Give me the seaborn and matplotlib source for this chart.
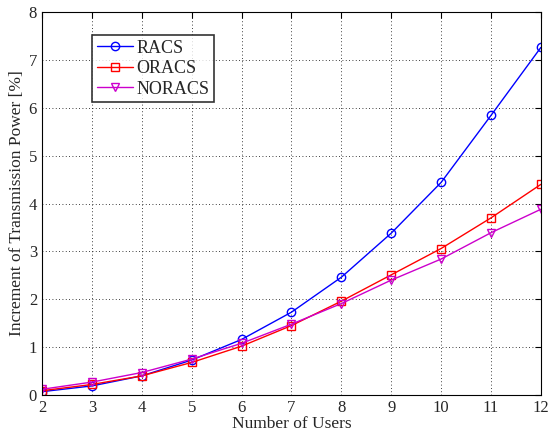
import matplotlib
matplotlib.use("Agg")
import matplotlib.pyplot as plt
import seaborn as sns
import pandas as pd
import numpy as np

users = [2, 3, 4, 5, 6, 7, 8, 9, 10, 11, 12]
racs = [0.07, 0.19, 0.40, 0.73, 1.16, 1.73, 2.46, 3.38, 4.44, 5.84, 7.26]
oracs = [0.09, 0.22, 0.40, 0.68, 1.02, 1.45, 1.96, 2.51, 3.06, 3.70, 4.40]
noracs = [0.12, 0.27, 0.47, 0.75, 1.08, 1.48, 1.91, 2.40, 2.84, 3.39, 3.88]
series_names = ["RACS", "ORACS", "NORACS"]
colors = ["#0000ff", "#ff0000", "#cc00cc"]
markers = ["o", "s", "v"]
x_ticks = [2, 3, 4, 5, 6, 7, 8, 9, 10, 11, 12]
y_ticks = [0, 1, 2, 3, 4, 5, 6, 7, 8]

sns.set_style("white")
plt.rcParams['font.family'] = ['Liberation Serif', 'DejaVu Serif']
plt.rcParams['mathtext.fontset'] = 'stix'

df = pd.DataFrame({
    "users": users * 3,
    "value": racs + oracs + noracs,
    "scheme": sum([[n] * len(users) for n in series_names], []),
})

fig = plt.figure(figsize=(5.48, 4.32), dpi=100)
ax = fig.add_axes([0.0766, 0.0856, 0.9104, 0.8866])

sns.lineplot(data=df, x="users", y="value", hue="scheme", style="scheme",
             palette=dict(zip(series_names, colors)),
             markers=dict(zip(series_names, markers)), dashes=False,
             markerfacecolor="none", markersize=6, linewidth=1.0,
             ax=ax, legend=False)
for line, c in zip(ax.lines, colors):
    line.set_markeredgecolor(c)
    line.set_markerfacecolor("none")
    line.set_markeredgewidth(1.0)

ax.set_xlim(2, 12)
ax.set_ylim(0, 8)
ax.set_xticks(x_ticks)
ax.set_yticks(y_ticks)
ax.grid(True, color="black", linestyle=(0, (1, 3)), linewidth=0.6)
ax.tick_params(direction="in", length=4, labelsize=12, top=True, right=True,
               color="black", width=0.8)
for s in ax.spines.values():
    s.set_color("black")
    s.set_linewidth(0.8)
ax.set_xlabel("Number of Users", fontsize=12.5, labelpad=0)
ax.set_ylabel("Increment of Transmission Power [%]", fontsize=12.5, labelpad=3)

from matplotlib.lines import Line2D
handles = [Line2D([], [], color=c, marker=m, markerfacecolor="none",
                  markeredgecolor=c, markersize=6, linewidth=1.0)
           for c, m in zip(colors, markers)]
leg = ax.legend(handles, series_names, loc="upper left",
                bbox_to_anchor=(0.101, 0.94), fontsize=13, frameon=True,
                fancybox=False, edgecolor="black", handlelength=2.0,
                borderpad=0.25, labelspacing=0.2, handletextpad=0.2,
                borderaxespad=0)
leg.get_frame().set_linewidth(1.2)

fig.savefig("out.png", dpi=100)
